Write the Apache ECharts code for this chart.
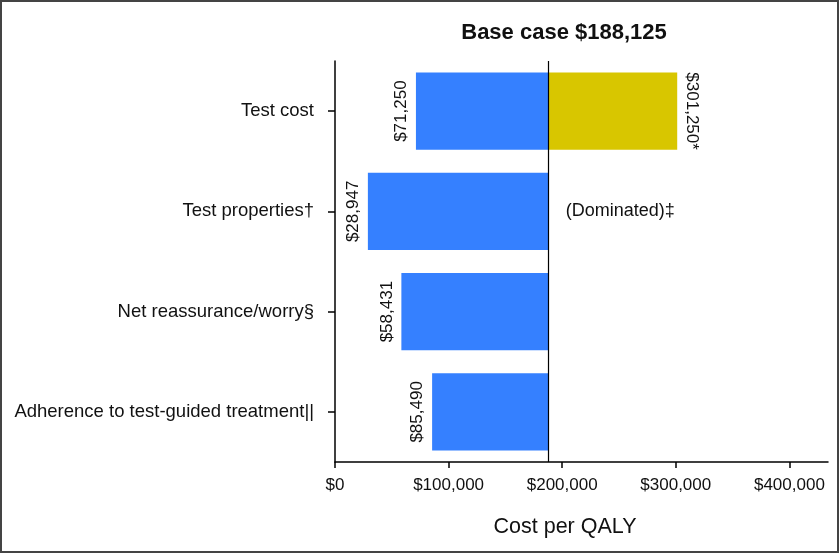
<!DOCTYPE html>
<html>
<head>
<meta charset="utf-8">
<script src="https://cdn.jsdelivr.net/npm/echarts@6/dist/echarts.min.js"></script>
<style>html,body{margin:0;padding:0;background:#fff;}#c{width:840px;height:555px;}</style>
</head>
<body>
<div id="c"></div>
<script>
const categories = ['Test cost', 'Test properties†', 'Net reassurance/worry§', 'Adherence to test-guided treatment||'];
const baseCase = 188125;
const lowValues = [71250, 28947, 58431, 85490];
const highValues = [301250, null, null, null];
const highNotes = ['$301,250*', '(Dominated)‡', '', ''];
const xTicks = [0, 100000, 200000, 300000, 400000];

const fmt = v => '$' + v.toLocaleString('en-US');
const FONT = '"Liberation Sans", Arial, sans-serif';

const chart = echarts.init(document.getElementById('c'), null, {renderer: 'canvas'});

const cats = categories.slice().reverse();
const lowR = lowValues.slice().reverse();
const highR = highValues.slice().reverse();
const notesR = highNotes.slice().reverse();

const option = {
  animation: false,
  backgroundColor: '#fff',
  title: [
    {text: 'Base case ' + fmt(baseCase), left: 559, top: 17, textAlign: 'center',
     textStyle: {fontFamily: FONT, fontWeight: 'bold', fontSize: 22, color: '#111'}},
    {text: 'Cost per QALY', left: 560, top: 511, textAlign: 'center',
     textStyle: {fontFamily: FONT, fontWeight: 'normal', fontSize: 21.5, color: '#111'}}
  ],
  graphic: [{type: 'rect', shape: {x: 1, y: 1, width: 837, height: 551},
    style: {fill: 'none', stroke: '#444', lineWidth: 2}, silent: true}],
  grid: {left: 335, top: 61, right: 12, bottom: 93, containLabel: false},
  xAxis: {
    type: 'value', min: 0, max: 434000, interval: 100000,
    splitLine: {show: false},
    axisLine: {show: true, lineStyle: {color: '#000', width: 1.5}},
    axisTick: {show: true, length: 6, lineStyle: {color: '#000', width: 1.5}},
    axisLabel: {fontFamily: FONT, fontSize: 17, color: '#111', margin: 15,
      formatter: v => xTicks.indexOf(v) >= 0 ? fmt(v) : '', showMaxLabel: false}
  },
  yAxis: {
    type: 'category', data: cats,
    axisLine: {show: true, lineStyle: {color: '#000', width: 1.5}},
    axisTick: {show: true, alignWithLabel: true, length: 7, lineStyle: {color: '#000', width: 1.5}},
    axisLabel: {fontFamily: FONT, fontSize: 18.5, color: '#111', margin: 21}
  },
  series: [
    {type: 'bar', stack: 'L', barWidth: '77%', barGap: '-100%', silent: true,
     itemStyle: {color: 'transparent'}, data: lowR,
     label: {show: true, position: 'insideRight', rotate: 90, distance: 0, offset: [0, -6],
       align: 'center', verticalAlign: 'bottom',
       fontFamily: FONT, fontSize: 17, color: '#111', formatter: p => fmt(p.value)}},
    {type: 'bar', stack: 'L', barWidth: '77%', barGap: '-100%', silent: true,
     itemStyle: {color: '#3580FF'}, data: lowR.map(v => baseCase - v),
     markLine: {silent: true, symbol: 'none', label: {show: false},
       lineStyle: {color: '#000', width: 1.2, type: 'solid'},
       data: [[{coord: [baseCase, 0], y: 61}, {coord: [baseCase, 0], y: 462}]]}},
    {type: 'bar', stack: 'R', barWidth: '77%', barGap: '-100%', silent: true,
     itemStyle: {color: 'transparent'}, data: lowR.map(() => baseCase)},
    {type: 'bar', stack: 'R', barWidth: '77%', barGap: '-100%', silent: true,
     itemStyle: {color: '#D8C600'},
     data: highR.map((v, i) => {
       if (v != null) {
         return {value: v - baseCase, label: {show: true, position: 'right', rotate: -90,
           align: 'center', verticalAlign: 'bottom', distance: 6, fontSize: 17,
           formatter: notesR[i]}};
       }
       return {value: 0, label: notesR[i] ? {show: true, position: 'right', rotate: 0,
         distance: 17, fontSize: 18, formatter: notesR[i]} : {show: false}};
     }),
     label: {fontFamily: FONT, fontSize: 17, color: '#111'}}
  ]
};
chart.setOption(option);
</script>
</body>
</html>
